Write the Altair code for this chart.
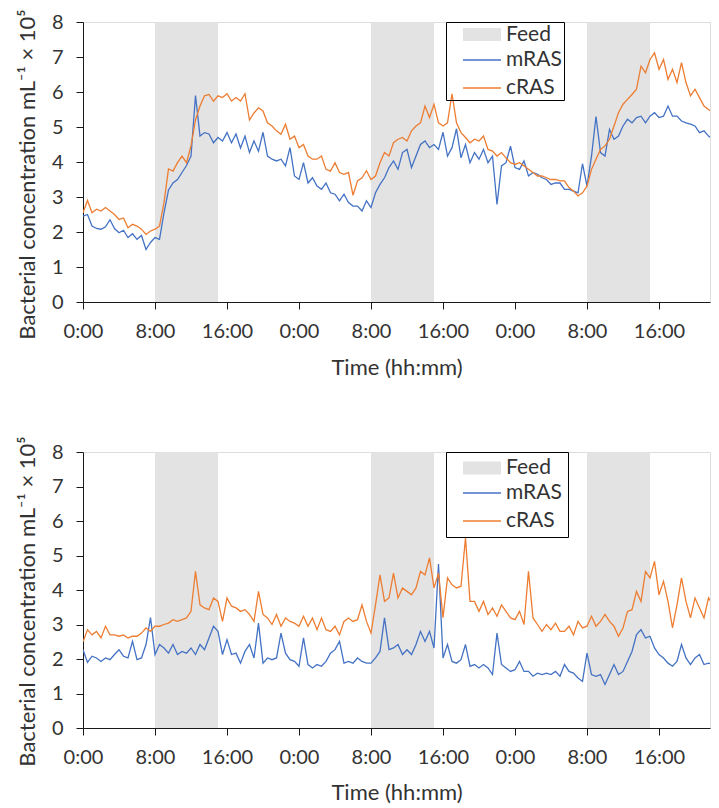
import altair as alt
import pandas as pd

# ---------------- data ----------------
HOURS = [i / 2 for i in range(142)] + [70.8]

TOP_MRAS = [
    2.45, 2.5, 2.17, 2.1, 2.08, 2.15, 2.35, 2.1, 1.98, 2.05,
    1.84, 1.95, 1.79, 1.9, 1.5, 1.7, 1.84, 1.79, 2.55, 3.2,
    3.4, 3.5, 3.7, 3.9, 4.17, 5.9, 4.74, 4.84, 4.8, 4.55,
    4.7, 4.6, 4.84, 4.55, 4.8, 4.4, 4.74, 4.27, 4.6, 4.31,
    4.85, 4.17, 4.08, 4.03, 4.08, 3.89, 4.41, 3.6, 3.5, 3.98,
    3.4, 3.55, 3.31, 3.22, 3.4, 3.12, 3.08, 2.89, 3.08, 2.84,
    2.74, 2.74, 2.6, 2.89, 2.7, 3.12, 3.36, 3.55, 3.84, 4.03,
    3.79, 4.27, 4.36, 3.84, 4.17, 4.5, 4.6, 4.41, 4.5, 4.36,
    4.85, 4.17, 4.41, 4.95, 4.12, 4.5, 3.98, 4.27, 4.08, 4.36,
    3.98, 4.17, 2.79, 3.89, 3.98, 4.45, 3.84, 3.79, 4.03, 3.6,
    3.7, 3.65, 3.55, 3.5, 3.36, 3.4, 3.4, 3.22, 3.22, 3.17,
    3.12, 3.95, 3.31, 4.17, 5.3, 4.27, 4.17, 4.93, 4.65, 4.74,
    5.03, 5.22, 5.12, 5.27, 5.31, 5.12, 5.31, 5.41, 5.27, 5.31,
    5.6, 5.31, 5.31, 5.17, 5.12, 5.08, 5.03, 4.84, 4.89, 4.74,
    4.65, 4.79, 4.17,
]
TOP_CRAS = [
    2.55, 2.9, 2.55, 2.65, 2.6, 2.7, 2.6, 2.5, 2.36, 2.4,
    2.12, 2.22, 2.17, 2.08, 1.93, 2.03, 2.08, 2.17, 2.84, 3.8,
    3.74, 3.98, 4.17, 3.98, 4.46, 5.2, 5.6, 5.89, 5.93, 5.74,
    5.89, 5.84, 5.95, 5.74, 5.84, 5.74, 5.95, 5.2, 5.4, 5.55,
    5.46, 5.12, 5.03, 4.89, 4.79, 5.08, 4.65, 4.74, 4.41, 4.5,
    4.17, 4.08, 4.08, 4.17, 3.79, 3.74, 3.98, 3.7, 3.65, 3.7,
    3.05, 3.46, 3.55, 3.75, 3.5, 3.6, 3.98, 4.27, 4.17, 4.55,
    4.65, 4.7, 4.6, 4.89, 5.03, 5.12, 5.6, 5.27, 5.65, 5.12,
    5.03, 5.12, 5.95, 5.12, 4.84, 4.7, 4.55, 4.65, 4.6, 4.74,
    4.36, 4.31, 4.17, 4.27, 4.12, 3.98, 3.93, 3.98, 3.89, 3.79,
    3.7, 3.6, 3.6, 3.55, 3.5, 3.5, 3.46, 3.46, 3.27, 3.17,
    3.03, 3.12, 3.31, 3.79, 4.08, 4.36, 4.46, 4.65, 5.03, 5.41,
    5.65, 5.79, 5.93, 6.08, 6.74, 6.55, 6.93, 7.12, 6.65, 6.93,
    6.36, 6.65, 6.27, 6.84, 6.27, 5.89, 6.08, 5.84, 5.6, 5.5,
    5.41, 5.55, 5.03,
]
BOTTOM_MRAS = [
    2.27, 1.9, 2.08, 2.03, 1.93, 2.03, 1.98, 2.13, 2.27, 2.08,
    2.03, 2.51, 1.98, 2.03, 2.42, 3.2, 2.13, 2.42, 2.32, 2.17,
    2.42, 2.13, 2.22, 2.17, 2.32, 2.13, 2.42, 2.27, 2.61, 2.95,
    2.8, 2.13, 2.56, 2.13, 2.17, 1.88, 2.22, 2.42, 2.03, 3.04,
    1.88, 2.03, 1.98, 2.03, 2.75, 2.17, 1.98, 1.93, 1.79, 2.61,
    1.84, 1.74, 1.84, 1.79, 1.93, 2.17, 2.27, 2.51, 1.88, 1.93,
    1.88, 2.03, 1.93, 1.88, 1.88, 2.03, 2.22, 3.19, 2.27, 2.32,
    2.42, 2.13, 2.27, 2.13, 2.42, 2.8, 2.51, 2.8, 2.32, 4.75,
    2.03, 2.42, 1.93, 1.88, 1.98, 2.42, 1.79, 1.84, 1.74, 1.84,
    1.74, 1.55, 2.75, 1.84, 1.74, 1.64, 1.69, 1.93, 1.64, 1.64,
    1.5, 1.59, 1.55, 1.59, 1.55, 1.64, 1.5, 1.84, 1.64, 1.59,
    1.45, 1.35, 2.17, 1.55, 1.5, 1.55, 1.26, 1.55, 1.84, 1.55,
    1.64, 1.93, 2.22, 2.71, 2.85, 2.61, 2.66, 2.32, 2.13, 2.03,
    1.88, 1.79, 1.93, 2.42, 2.03, 1.84, 2.03, 2.13, 1.84, 1.88,
    1.84, 1.93, 2.17,
]
BOTTOM_CRAS = [
    2.5, 2.85, 2.7, 2.8, 2.61, 2.95, 2.7, 2.7, 2.66, 2.7,
    2.61, 2.66, 2.66, 2.75, 2.9, 2.8, 2.95, 2.95, 3.0, 3.04,
    3.14, 3.09, 3.14, 3.19, 3.38, 4.54, 3.57, 3.48, 3.43, 3.77,
    3.67, 3.09, 3.77, 3.53, 3.48, 3.38, 3.43, 3.29, 3.09, 3.96,
    3.29, 3.19, 3.0, 3.29, 2.95, 3.19, 3.09, 3.04, 2.95, 3.24,
    2.95, 3.19, 2.85, 3.19, 2.85, 2.8, 2.95, 2.7, 3.09, 3.19,
    3.09, 3.14, 3.57, 3.09, 2.75, 3.57, 4.44, 3.67, 3.77, 4.49,
    3.77, 4.06, 3.96, 3.86, 4.06, 4.54, 4.44, 4.93, 4.06, 4.49,
    3.2, 4.35, 4.15, 4.06, 4.11, 5.51, 3.67, 3.67, 3.38, 3.67,
    3.29, 3.48, 3.24, 3.57, 3.38, 3.19, 3.14, 3.38, 3.0, 4.54,
    3.19, 3.0, 2.8, 3.0, 2.85, 3.04, 2.8, 2.8, 2.95, 2.7,
    3.09, 2.9, 2.95, 3.24, 2.95, 3.09, 3.29, 3.09, 2.95, 2.66,
    2.9, 3.38, 3.43, 3.96, 3.67, 4.54, 4.35, 4.83, 3.86, 4.25,
    3.67, 2.9, 3.57, 4.35, 3.67, 3.19, 3.77, 3.48, 3.19, 3.77,
    3.57, 3.67, 3.19,
]

FEED_START = [8, 32, 56]
FEED_END = [15, 39, 63]

FEED_LABEL = ["Feed"]
FEED_COLOR = ["#E3E3E3"]
SERIES = ["mRAS", "cRAS"]
COLORS = ["#4472C4", "#ED7D31"]

TICK_HOURS = [0, 8, 16, 24, 32, 40, 48, 56, 64]
Y_TICKS = [0, 1, 2, 3, 4, 5, 6, 7, 8]
PLOT_W = 627
X_MAX = PLOT_W / 9.0
Y_MIN, Y_MAX = 0, 8

X_TITLE = "Time (hh:mm)"
Y_TITLE = "Bacterial concentration mL\u207b\u00b9 \u00d7 10\u2075"

FONT = "Lato"
TEXT = "#333333"
AXIS = "#1a1a1a"
NB = "\u00a0"
RECT_PATH = "M-9.5,-3.25L9.5,-3.25L9.5,3.25L-9.5,3.25Z"
LINE_PATH = "M-9.5,0L9.5,0"
LEG_FS = 21


def make_panel(m_vals, c_vals, height, pad, row_pad, title_pad, n_nb,
               title_y, x_title_pad):
    assert len(m_vals) == len(HOURS), len(m_vals)
    assert len(c_vals) == len(HOURS), len(c_vals)
    lines_df = pd.DataFrame({
        "hour": HOURS + HOURS,
        "value": m_vals + c_vals,
        "series": [SERIES[0]] * len(HOURS) + [SERIES[1]] * len(HOURS),
    })
    feed_df = pd.DataFrame({
        "start": FEED_START, "end": FEED_END,
        "lo": [Y_MIN] * len(FEED_START), "hi": [Y_MAX] * len(FEED_START),
        "kind": FEED_LABEL * len(FEED_START),
    })
    x_scale = alt.Scale(domain=[0, X_MAX], nice=False, zero=False)
    y_scale = alt.Scale(domain=[Y_MIN, Y_MAX], nice=False)
    x_axis = alt.Axis(
        values=TICK_HOURS, labelExpr="(datum.value % 24) + ':00'",
        title=X_TITLE, grid=False, tickSize=7, labelPadding=12,
        titlePadding=x_title_pad, labelFontSize=20, titleFontSize=22,
        titleFontWeight="normal", labelColor=TEXT, titleColor=TEXT,
        domainColor=AXIS, tickColor=AXIS, labelFont=FONT, titleFont=FONT,
        labelFlush=False,
    )
    y_axis = alt.Axis(
        values=Y_TICKS, title=Y_TITLE, grid=False, tickSize=7,
        labelPadding=13, titlePadding=12, labelFontSize=20,
        titleFontSize=22, titleFontWeight="normal", labelColor=TEXT,
        titleColor=TEXT, domainColor=AXIS, tickColor=AXIS,
        labelFont=FONT, titleFont=FONT, titleY=title_y,
    )
    # legend for the two lines, with a blank title row reserved for "Feed"
    sym_off = 25.5 - pad
    line_legend = alt.Legend(
        title=NB, titleFontSize=LEG_FS, titlePadding=title_pad,
        orient="none", legendX=363, legendY=0,
        padding=pad, rowPadding=row_pad,
        symbolType=LINE_PATH, symbolSize=16, symbolStrokeWidth=1.3,
        symbolOffset=sym_off, labelOffset=60 - pad - 21 - sym_off,
        labelFontSize=LEG_FS, labelFont=FONT, labelColor=TEXT,
        labelExpr="datum.label + '" + NB * n_nb + "'",
        strokeColor="#000000", fillColor="transparent", zindex=1,
    )
    feed_legend = alt.Legend(
        title=None, orient="none", legendX=363, legendY=pad,
        padding=0, symbolType=RECT_PATH, symbolSize=16,
        symbolStrokeWidth=0, symbolOffset=25.5, labelOffset=60 - 21 - 25.5,
        labelFontSize=LEG_FS, labelFont=FONT, labelColor=TEXT,
        fillColor="transparent", zindex=2,
    )
    bands = alt.Chart(feed_df).mark_rect().encode(
        x=alt.X("start:Q", scale=x_scale, axis=x_axis),
        x2="end:Q",
        y=alt.Y("lo:Q", scale=y_scale, axis=y_axis),
        y2="hi:Q",
        fill=alt.Fill("kind:N", scale=alt.Scale(domain=FEED_LABEL, range=FEED_COLOR),
                      legend=feed_legend),
    )
    lines = alt.Chart(lines_df).mark_line(strokeWidth=1.3, clip=True).encode(
        x=alt.X("hour:Q", scale=x_scale, axis=x_axis),
        y=alt.Y("value:Q", scale=y_scale, axis=y_axis),
        color=alt.Color("series:N", scale=alt.Scale(domain=SERIES, range=COLORS),
                        legend=line_legend),
    )
    return alt.layer(bands, lines).properties(width=PLOT_W, height=height)


top = make_panel(TOP_MRAS, TOP_CRAS, 280, 2, 6, 4.5, 4, 152, 16)
bottom = make_panel(BOTTOM_MRAS, BOTTOM_CRAS, 276, 5.5, 6, 4, 3, 149, 15)

chart = (
    alt.vconcat(top, bottom, spacing=56)
    .resolve_scale(color="independent", fill="independent")
    .resolve_legend(color="independent", fill="independent")
    .properties(padding={"left": 7, "top": 0, "right": 0, "bottom": 0})
    .configure_view(stroke=None)
    .configure(font=FONT)
)

chart.save("out.html", embed_options={"renderer": "svg", "actions": False})
